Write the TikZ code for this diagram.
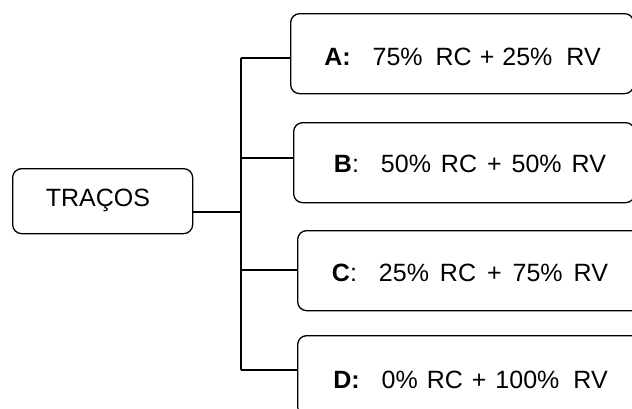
\documentclass[tikz,border=0pt]{standalone}
\usepackage{fontspec}
\setmainfont{Liberation Sans}
\begin{document}
\begin{tikzpicture}[x=1pt,y=-1pt,
  box/.style={draw=black,line width=1.3pt,rounded corners=9pt,inner sep=0pt,anchor=north west},
  link/.style={draw=black,line width=1.3pt},
  lbl/.style={font=\fontsize{25}{28}\selectfont,inner sep=0pt}]
\useasboundingbox (0,0) rectangle (632,408);
\clip (0,0) rectangle (632,408);
\node[box,minimum width=180pt,minimum height=65pt] (T) at (12,168) {};
\node[lbl] (Tt) at (98,200) {TRAÇOS};
\node[box,minimum width=343pt,minimum height=80pt] (A) at (290,13) {};
\node[box,minimum width=341pt,minimum height=80pt] (B) at (293,122) {};
\node[box,minimum width=345pt,minimum height=80pt] (C) at (297,230) {};
\node[box,minimum width=345pt,minimum height=80pt] (D) at (297,335) {};
\node[lbl] (At) at (462.5,57) {\textbf{A:}\hspace{22pt}75\%\hspace{13pt}RC\hspace{8pt}+\hspace{8pt}25\%\hspace{14pt}RV};
\node[lbl] (Bt) at (470,164) {\textbf{B}:\hspace{22pt}50\%\hspace{10pt}RC\hspace{10pt}+\hspace{10pt}50\%\hspace{10pt}RV};
\node[lbl] (Ct) at (470,273) {\textbf{C}:\hspace{22pt}25\%\hspace{11pt}RC\hspace{11pt}+\hspace{11pt}75\%\hspace{11pt}RV};
\node[lbl] (Dt) at (470.5,380) {\textbf{D:}\hspace{22pt}0\%\hspace{9pt}RC\hspace{9pt}+\hspace{9pt}100\%\hspace{14pt}RV};
\coordinate (j0) at (241,212);
\coordinate (jA) at (241,58);
\coordinate (jB) at (241,158);
\coordinate (jC) at (241,270);
\coordinate (jD) at (241,370);
\draw[link] (jA) -- (jD);
\draw[link] (T.east |- j0) -- (j0);
\draw[link] (jA) -- (jA -| A.west);
\draw[link] (jB) -- (jB -| B.west);
\draw[link] (jC) -- (jC -| C.west);
\draw[link] (jD) -- (jD -| D.west);
\end{tikzpicture}
\end{document}
